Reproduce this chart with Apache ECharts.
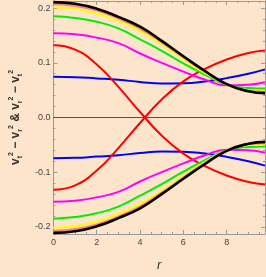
<!DOCTYPE html>
<html><head><meta charset="utf-8">
<script src="https://cdn.jsdelivr.net/npm/echarts@6/dist/echarts.min.js"></script>
<style>html,body{margin:0;padding:0;background:#fde5cc}#c{width:266px;height:277px}</style>
</head><body><div id="c"></div>
<script>
// radius sample points
const rVals = [0, 1, 2, 3, 4, 5, 6, 7, 8, 9, 9.77];
// upper family (v_r^2 - v_t^2)
const redUp     = [0.132, 0.124, 0.097, 0.056, 0.010, -0.033, -0.066, -0.089, -0.106, -0.118, -0.1225];
const blueUp    = [0.0745, 0.0738, 0.0715, 0.069, 0.065, 0.062, 0.0625, 0.066, 0.072, 0.080, 0.088];
const magentaUp = [0.154, 0.152, 0.146, 0.136, 0.117, 0.100, 0.084, 0.069, 0.059, 0.060, 0.0645];
const greenUp   = [0.185, 0.182, 0.175, 0.163, 0.143, 0.122, 0.099, 0.078, 0.060, 0.054, 0.053];
const yellowUp  = [0.2015, 0.1985, 0.190, 0.176, 0.158, 0.134, 0.107, 0.081, 0.060, 0.0505, 0.049];
const pinkUp    = [0.207, 0.204, 0.1955, 0.181, 0.1625, 0.1375, 0.110, 0.083, 0.0605, 0.049, 0.047];
const blackUp   = [0.211, 0.208, 0.199, 0.184, 0.166, 0.140, 0.112, 0.085, 0.061, 0.048, 0.0445];
// lower family (v_t^2 - v_r^2)
const redLo     = [-0.132, -0.124, -0.097, -0.056, -0.010, 0.033, 0.066, 0.089, 0.106, 0.118, 0.1225];
const blueLo    = [-0.0745, -0.0738, -0.0715, -0.069, -0.065, -0.062, -0.0625, -0.066, -0.072, -0.080, -0.088];
const magentaLo = [-0.154, -0.152, -0.146, -0.136, -0.117, -0.100, -0.084, -0.069, -0.059, -0.060, -0.0645];
const greenLo   = [-0.185, -0.182, -0.175, -0.163, -0.143, -0.122, -0.099, -0.078, -0.060, -0.054, -0.053];
const yellowLo  = [-0.2015, -0.1985, -0.190, -0.176, -0.158, -0.134, -0.107, -0.081, -0.060, -0.0505, -0.049];
const pinkLo    = [-0.207, -0.204, -0.1955, -0.181, -0.1625, -0.1375, -0.110, -0.083, -0.0605, -0.049, -0.047];
const blackLo   = [-0.211, -0.208, -0.199, -0.184, -0.166, -0.140, -0.112, -0.085, -0.061, -0.048, -0.0445];
// ticks
const xMajor = [0, 2, 4, 6, 8];
const xMinor = [0.5, 1, 1.5, 2.5, 3, 3.5, 4.5, 5, 5.5, 6.5, 7, 7.5, 8.5, 9, 9.5];
const yMajor = [-0.2, -0.1, 0, 0.1, 0.2];
const yMinor = [-0.18, -0.16, -0.14, -0.12, -0.08, -0.06, -0.04, -0.02, 0.02, 0.04, 0.06, 0.08, 0.12, 0.14, 0.16, 0.18];

const XMIN = 0, XMAX = 9.77, YMIN = -0.213, YMAX = 0.213;
const frameColor = '#9a9a9a';
const font = 'Liberation Sans';

function xAx(pos, ticks, len, showLine, showLabel, extra) {
  return Object.assign({
    type: 'value', position: pos, min: XMIN, max: XMAX,
    axisLine: { show: showLine, onZero: false, lineStyle: { color: frameColor, width: 1 } },
    axisTick: { show: true, inside: true, length: len, customValues: ticks, lineStyle: { color: frameColor } },
    axisLabel: { show: showLabel, customValues: ticks, margin: 4, color: '#444', fontSize: 9, fontFamily: font },
    splitLine: { show: false }
  }, extra || {});
}
function yAx(pos, ticks, len, showLine, showLabel, extra) {
  return Object.assign({
    type: 'value', position: pos, min: YMIN, max: YMAX,
    axisLine: { show: showLine, onZero: false, lineStyle: { color: frameColor, width: 1 } },
    axisTick: { show: true, inside: true, length: len, customValues: ticks, lineStyle: { color: frameColor } },
    axisLabel: { show: showLabel, customValues: ticks, margin: 3, color: '#444', fontSize: 9, fontFamily: font,
      formatter: v => (Math.abs(v) < 1e-9 ? '0.0' : v.toFixed(1)) },
    splitLine: { show: false }
  }, extra || {});
}

const sub = { fontSize: 7, verticalAlign: 'bottom', fontFamily: font, fontWeight: 'bold', color: '#333', lineHeight: 16 };
const sup = { fontSize: 7, verticalAlign: 'top', fontFamily: font, fontWeight: 'bold', color: '#333', lineHeight: 16 };
const yName = '{v|v}{s|t}{p|2}{o| − }{v|v}{s|r}{p|2}{o| & }{v|v}{s|r}{p|2}{o| − }{v|v}{s|t}{p|2}';

function mk(name, vals, color, w) {
  return { name, type: 'line', xAxisIndex: 0, yAxisIndex: 0, showSymbol: false, symbol: 'none',
    smooth: 0.5, lineStyle: { color, width: w }, itemStyle: { color },
    data: rVals.map((r, i) => [r, vals[i]]), z: 3 };
}

const series = [
  { type: 'line', data: [], xAxisIndex: 0, yAxisIndex: 0, z: 2,
    markLine: { silent: true, symbol: 'none', label: { show: false },
      lineStyle: { color: '#5a5048', width: 1, type: 'solid' }, data: [{ yAxis: 0 }] } },
  mk('blueUp', blueUp, '#0000ff', 2), mk('blueLo', blueLo, '#0000ff', 2),
  mk('redUp', redUp, '#ff0000', 2), mk('redLo', redLo, '#ff0000', 2),
  mk('magentaUp', magentaUp, '#ff00ff', 2), mk('magentaLo', magentaLo, '#ff00ff', 2),
  mk('greenUp', greenUp, '#00ee00', 2), mk('greenLo', greenLo, '#00ee00', 2),
  mk('yellowUp', yellowUp, '#ffff00', 2), mk('yellowLo', yellowLo, '#ffff00', 2),
  mk('pinkUp', pinkUp, '#ff8080', 2), mk('pinkLo', pinkLo, '#ff8080', 2),
  mk('blackUp', blackUp, '#000000', 2.6), mk('blackLo', blackLo, '#000000', 2.6)
];

const chart = echarts.init(document.getElementById('c'), null, { renderer: 'canvas' });
chart.setOption({
  backgroundColor: '#fde5cc',
  animation: false,
  grid: { left: 34, right: 1, top: 1, bottom: 43, containLabel: false },
  xAxis: [
    xAx('bottom', xMajor, 4, true, true, {
      name: 'r', nameLocation: 'middle', nameGap: 25,
      nameTextStyle: { fontSize: 13, fontStyle: 'italic', color: '#333', fontFamily: font } }),
    xAx('bottom', xMinor, 2, false, false),
    xAx('top', xMajor, 4, true, false),
    xAx('top', xMinor, 2, false, false)
  ],
  yAxis: [
    yAx('left', yMajor, 4, true, true, {
      name: yName, nameLocation: 'middle', nameGap: 20, nameRotate: 90,
      nameTextStyle: { fontSize: 12, fontFamily: font, fontWeight: 'bold', color: '#333',
        rich: { v: { fontSize: 12, fontFamily: font, fontWeight: 'bold', color: '#333', lineHeight: 16 },
                o: { fontSize: 12, fontFamily: font, fontWeight: 'bold', color: '#333', lineHeight: 16 },
                s: sub, p: sup } } }),
    yAx('left', yMinor, 2, false, false),
    yAx('right', yMajor, 4, true, false),
    yAx('right', yMinor, 2, false, false)
  ],
  series
});
</script></body></html>
